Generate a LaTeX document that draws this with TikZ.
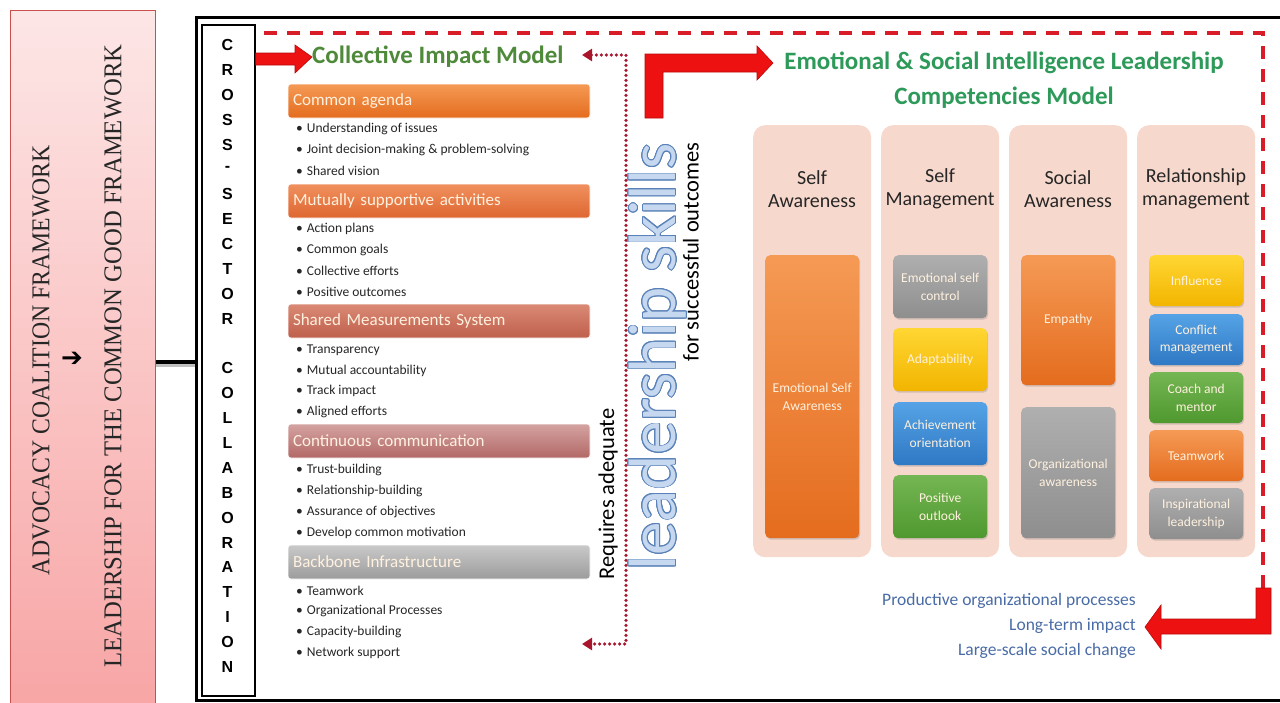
\documentclass[tikz,border=0pt]{standalone}
\usepackage{fontspec}
\setmainfont{Carlito}
\newfontfamily\condserif{Liberation Serif}
\newfontfamily\arialfam{Liberation Sans}
\newfontfamily\symfont{DejaVu Sans}
\usepackage{contour}
\usetikzlibrary{shadows,arrows.meta}

% palette
\definecolor{panelTop}{HTML}{FDE6E6}
\definecolor{panelBot}{HTML}{F8A5A5}
\definecolor{panelEdge}{HTML}{C9504D}
\definecolor{arrowRed}{HTML}{EE1111}
\definecolor{arrowEdge}{HTML}{B80A0A}
\definecolor{dashRed}{HTML}{D81C28}
\definecolor{dotRed}{HTML}{A8152C}
\definecolor{ciGreen}{HTML}{4E8A3A}
\definecolor{esGreen}{HTML}{2E9A5A}
\definecolor{colPink}{HTML}{F7D8CC}
\definecolor{outBlue}{HTML}{4A6CA6}
\definecolor{lsFill}{HTML}{C5D8F0}
\definecolor{lsEdge}{HTML}{5A82B8}
\definecolor{bulletInk}{HTML}{262626}
\definecolor{oraT}{HTML}{F59A55}\definecolor{oraB}{HTML}{E46C1E}
\definecolor{mutT}{HTML}{F0915F}\definecolor{mutB}{HTML}{DE6630}
\definecolor{smsT}{HTML}{DA8A76}\definecolor{smsB}{HTML}{BE5F4B}
\definecolor{ccT}{HTML}{D4A3A1}\definecolor{ccB}{HTML}{B26866}
\definecolor{bbT}{HTML}{C9C9C9}\definecolor{bbB}{HTML}{9C9C9C}
\definecolor{gryT}{HTML}{AFAFAF}\definecolor{gryB}{HTML}{8E8E8E}
\definecolor{ylwT}{HTML}{FFD633}\definecolor{ylwB}{HTML}{F2B500}
\definecolor{bluT}{HTML}{55A3E6}\definecolor{bluB}{HTML}{2F78C4}
\definecolor{grnT}{HTML}{74B653}\definecolor{grnB}{HTML}{4F982F}
\definecolor{boxInk}{HTML}{FFF1DF}

\contourlength{0.8pt}

\tikzset{
  cimbar/.style={rounded corners=3pt, minimum width=302pt, minimum height=34pt,
    text width=292pt, align=left, inner sep=0pt, text=boxInk,
    font=\fontsize{17}{20}\selectfont, draw=white, line width=0.6pt},
  bulletitem/.style={anchor=west, inner sep=0pt, text=bulletInk,
    font=\fontsize{13.5}{16}\selectfont},
  colbox/.style={rounded corners=12pt, fill=colPink, minimum width=118pt,
    minimum height=432pt, anchor=north west, inner sep=0pt},
  colhead/.style={align=center, text=black!85, font=\fontsize{20}{23}\selectfont},
  compbox/.style={rounded corners=5pt, minimum width=94pt, anchor=north west,
    inner sep=0pt, drop shadow={shadow xshift=1pt, shadow yshift=-1.5pt, opacity=.3}},
  comptext/.style={align=center, text=boxInk, font=\fontsize{13.5}{17.5}\selectfont},
  blockarrow/.style={fill=arrowRed, draw=arrowEdge, line width=0.6pt, line join=miter},
}

\begin{document}
\begin{tikzpicture}[x=1pt,y=-1pt]
\useasboundingbox (0,0) rectangle (1280,702);
\clip (0,0) rectangle (1280,702);
\fill[white] (0,0) rectangle (1280,702);

% ---- left framework panel
\node[draw=panelEdge, line width=1pt, top color=panelTop, bottom color=panelBot,
      minimum width=145pt, minimum height=700pt, anchor=north west, inner sep=0pt]
      (lp) at (10,10) {};
\node[rotate=90, inner sep=0pt, text=black!85] (acf) at (41,360)
  {\resizebox{430pt}{17pt}{\condserif ADVOCACY COALITION FRAMEWORK}};
\node[inner sep=0pt] (tofw) at (72,359) {\symfont\bfseries\fontsize{26}{26}\selectfont ➔};
\node[rotate=90, inner sep=0pt, text=black!85] (lcg) at (113,356)
  {\resizebox{623pt}{17pt}{\condserif LEADERSHIP FOR THE COMMON GOOD FRAMEWORK}};

% ---- outer frame and its link to the panel
\node[draw, line width=3pt, minimum width=1110pt, minimum height=683pt,
      anchor=north west, inner sep=0pt] (frame) at (194.5,15.5) {};
\coordinate (linky) at (0,362);
\draw[black!25, line width=4pt] ([yshift=-2.5pt]lp.east |- linky) -- ([yshift=-2.5pt]frame.west |- linky);
\draw[line width=4pt] (lp.east |- linky) -- (frame.west |- linky);

% ---- cross-sector column
\node[draw, line width=1.6pt, fill=white, minimum width=53pt, minimum height=671pt,
      anchor=north west, inner sep=0pt] (xs) at (201,24) {};
\foreach \ch [count=\i from 0] in {C,R,O,S,S,-,S,E,C,T,O,R,{},C,O,L,L,A,B,O,R,A,T,I,O,N}
  \node[font=\arialfam\bfseries\fontsize{16}{16}\selectfont, inner sep=0pt]
    at (227.5,{45+\i*24.88}) {\ch};

% ---- dashed enclosure
\draw[dashRed, line width=3.4pt, dash pattern=on 13pt off 10pt] (264,33) -- (1263,33) -- (1263,590);

% ---- collective impact model
\node[font=\bfseries\fontsize{25}{28}\selectfont, text=ciGreen, inner sep=0pt, anchor=west]
  (cim) at (312,57) {Collective Impact Model};
\fill[blockarrow] (xs.east |- 0,53) -- (295,53) -- (295,45) -- (cim.west) -- (295,73) -- (295,65) -- (xs.east |- 0,65) -- cycle;

\node[cimbar, top color=oraT, bottom color=oraB] (h1) at (439,101) {Common agenda};
\node[bulletitem] at (296,129) {\textbullet\hspace{4pt}Understanding of issues};
\node[bulletitem] at (296,150) {\textbullet\hspace{4pt}Joint decision-making \& problem-solving};
\node[bulletitem] at (296,171) {\textbullet\hspace{4pt}Shared vision};

\node[cimbar, top color=mutT, bottom color=mutB] (h2) at (439,201) {Mutually supportive activities};
\node[bulletitem] at (296,229) {\textbullet\hspace{4pt}Action plans};
\node[bulletitem] at (296,250) {\textbullet\hspace{4pt}Common goals};
\node[bulletitem] at (296,271) {\textbullet\hspace{4pt}Collective efforts};
\node[bulletitem] at (296,292) {\textbullet\hspace{4pt}Positive outcomes};

\node[cimbar, top color=smsT, bottom color=smsB] (h3) at (439,321) {Shared Measurements System};
\node[bulletitem] at (296,350) {\textbullet\hspace{4pt}Transparency};
\node[bulletitem] at (296,371) {\textbullet\hspace{4pt}Mutual accountability};
\node[bulletitem] at (296,391) {\textbullet\hspace{4pt}Track impact};
\node[bulletitem] at (296,412) {\textbullet\hspace{4pt}Aligned efforts};

\node[cimbar, top color=ccT, bottom color=ccB] (h4) at (439,441) {Continuous communication};
\node[bulletitem] at (296,470) {\textbullet\hspace{4pt}Trust-building};
\node[bulletitem] at (296,491) {\textbullet\hspace{4pt}Relationship-building};
\node[bulletitem] at (296,512) {\textbullet\hspace{4pt}Assurance of objectives};
\node[bulletitem] at (296,533) {\textbullet\hspace{4pt}Develop common motivation};

\node[cimbar, top color=bbT, bottom color=bbB] (h5) at (439,562) {Backbone Infrastructure};
\node[bulletitem] at (296,591) {\textbullet\hspace{4pt}Teamwork};
\node[bulletitem] at (296,611) {\textbullet\hspace{4pt}Organizational Processes};
\node[bulletitem] at (296,632) {\textbullet\hspace{4pt}Capacity-building};
\node[bulletitem] at (296,653) {\textbullet\hspace{4pt}Network support};

% ---- dotted feedback line back to the model
\coordinate (dtop) at (582,55);
\coordinate (dbot) at (582,644);
\draw[dotRed, line width=3.6pt, dash pattern=on 0pt off 5pt, line cap=round,
      {Triangle[length=10pt,width=12pt]}-{Triangle[length=10pt,width=12pt]}]
  (dtop) -- (626,55) -- (626,644) -- (dbot);

% ---- leadership skills wording
\node[rotate=90, inner sep=0pt, font=\fontsize{22.5}{22.5}\selectfont] (req) at (608,494) {Requires adequate};
\node[rotate=90, inner sep=0pt, font=\fontsize{67}{67}\selectfont] (ls) at (658,357)
  {\contour{lsEdge}{\textcolor{lsFill}{leadership skills}}};
\node[rotate=90, inner sep=0pt, font=\fontsize{22.5}{22.5}\selectfont] (fso) at (691,252) {for successful outcomes};

% ---- emotional & social intelligence model
\node[font=\bfseries\fontsize{25}{35}\selectfont, text=esGreen, align=center, inner sep=0pt]
  (esi) at (1004,80) {Emotional \& Social Intelligence Leadership\\Competencies Model};
\coordinate (esiw) at (773,63);
\fill[blockarrow] (645,118) -- (645,54) -- (757,54) -- (757,46) -- (esiw) -- (757,80) -- (757,72) -- (663,72) -- (663,118) -- cycle;

\node[colbox] (c1) at (753,125) {};
\node[colbox] (c2) at (881,125) {};
\node[colbox] (c3) at (1009,125) {};
\node[colbox] (c4) at (1137,125) {};
\node[colhead] at (812,189) {Self\\Awareness};
\node[colhead] at (940,189) {Self\\Management};
\node[colhead] at (1068,189) {Social\\Awareness};
\node[colhead] at (1196,189) {Relationship\\management};

% self awareness
\node[compbox, top color=oraT, bottom color=oraB, minimum height=283pt] (esa) at (765,255) {};
\node[comptext] at (esa) {Emotional Self\\Awareness};
% self management
\node[compbox, top color=gryT, bottom color=gryB, minimum height=63pt] (esc) at (893,255) {};
\node[comptext] at (esc) {Emotional self\\control};
\node[compbox, top color=ylwT, bottom color=ylwB, minimum height=63pt] (ada) at (893,328) {};
\node[comptext] at (ada) {Adaptability};
\node[compbox, top color=bluT, bottom color=bluB, minimum height=63pt] (ach) at (893,402) {};
\node[comptext] at (ach) {Achievement\\orientation};
\node[compbox, top color=grnT, bottom color=grnB, minimum height=63pt] (pos) at (893,475) {};
\node[comptext] at (pos) {Positive\\outlook};
% social awareness
\node[compbox, top color=oraT, bottom color=oraB, minimum height=130pt] (emp) at (1021,255) {};
\node[comptext] at (emp) {Empathy};
\node[compbox, top color=gryT, bottom color=gryB, minimum height=131pt] (org) at (1021,407) {};
\node[comptext] at (org) {Organizational\\awareness};
% relationship management
\node[compbox, top color=ylwT, bottom color=ylwB, minimum height=51pt] (inf) at (1149,255) {};
\node[comptext] at (inf) {Influence};
\node[compbox, top color=bluT, bottom color=bluB, minimum height=51pt] (con) at (1149,314) {};
\node[comptext] at (con) {Conflict\\management};
\node[compbox, top color=grnT, bottom color=grnB, minimum height=51pt] (coa) at (1149,372) {};
\node[comptext] at (coa) {Coach and\\mentor};
\node[compbox, top color=oraT, bottom color=oraB, minimum height=51pt] (tea) at (1149,430) {};
\node[comptext] at (tea) {Teamwork};
\node[compbox, top color=gryT, bottom color=gryB, minimum height=51pt] (ins) at (1149,488) {};
\node[comptext] at (ins) {Inspirational\\leadership};

% ---- outcomes
\node[anchor=north east, align=right, text=outBlue, inner sep=0pt,
      font=\fontsize{17.5}{25}\selectfont] (out) at (1136,593)
  {Productive organizational processes\\Long-term impact\\Large-scale social change};
\coordinate (outtip) at (1145,627);
\fill[blockarrow] (1256,588) -- (1256,619) -- (1161,619) -- (1161,605) -- (outtip) -- (1161,649) -- (1161,634) -- (1271,634) -- (1271,588) -- cycle;
\end{tikzpicture}
\end{document}
